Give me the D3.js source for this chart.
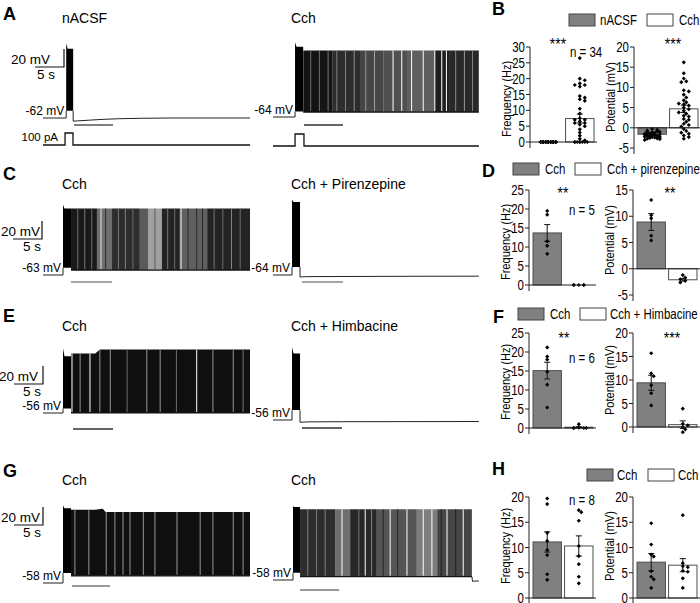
<!DOCTYPE html>
<html>
<head>
<meta charset="utf-8">
<script src="https://cdn.jsdelivr.net/npm/d3@7"></script>
<style>
  body { margin: 0; background: #fff; }
  svg { display: block; font-family: "Liberation Sans", Arial, sans-serif; }
</style>
</head>
<body>
<svg width="700" height="603"></svg>
<script>
// ---------- trace data (time in s, voltage in mV above rest) ----------
const leftTitles = ["nACSF", "Cch", "Cch", "Cch"];
const rightTitles = ["Cch", "Cch + Pirenzepine", "Cch + Himbacine", "Cch"];
const leftRest = [-62, -63, -56, -58];
const rightRest = [-64, -64, -56, -58];
// current step on / off
const leftStep = [[4.0, 5.2], [3.45, 4.83], [3.45, 4.83], [3.45, 4.83]];
const rightStep = [[3.8, 5.2], [3.28, 4.66], [3.28, 4.66], [3.45, 4.66]];
// burst: peak, plateau, floor
const leftBurst = [[83, 77, 8], [78, 74, 8], [72, 63, 5], [86, 83, 11]];
const rightBurst = [[83, 78, 6], [84, 81, 9], [81, 74, 11], [82, 81, 8]];
const leftEnd = 35.7, rightEnd = 35.5;

// quiet traces after the step
const aLeftAfter = [[5.2, -3.5], [6, -3.2], [8, -2.4], [10, -1.6], [13, -0.8], [17, -0.3], [22, 0], [35.7, 0]];
const cRightAfter = [[4.66, -2.2], [6, -1.8], [15, -1.6], [25, -1.4], [35.5, -1.3]];
const eRightAfter = [[4.66, -2.5], [6, -2.1], [12, -1.9], [35.5, -1.7]];
const gRightAfter = [[34.3, 3.7], [34.4, -1.5], [34.8, -1.2], [35.5, -1]];

// spiking traces: spike-top envelope, shade bands [s0, s1, grey], single spikes [s, grey]
const aRightTop = [[5.2, 74], [35.5, 74]];
const aRightShade = [[5.2, 10.3, 20], [10.3, 15, 45], [15, 19, 70], [19, 23.1, 80], [23.1, 27.9, 95], [27.9, 30.5, 30], [30.5, 35.5, 40]];
const aRightLines = [[6.5, 110], [8, 110], [9.5, 120], [11, 130], [12.5, 130], [14, 140], [16, 150], [17.5, 160],
  [20.7, 255], [22.2, 255], [23.9, 255], [25.9, 255], [27.9, 255], [29.1, 255], [29.9, 255], [31.5, 140], [33, 150], [34.4, 130]];
const cLeftTop = [[4.83, 74], [35.7, 74]];
const cLeftShade = [[4.83, 9.3, 25], [9.3, 11.9, 110], [11.9, 16.7, 45], [16.7, 18.1, 90], [18.1, 20.5, 160], [20.5, 23.6, 35], [23.6, 28.3, 95], [28.3, 35.7, 35]];
const cLeftLines = [[6, 110], [7.2, 120], [8.4, 110], [10.0, 230], [10.8, 40], [13, 120], [14.2, 130], [15.5, 110],
  [19.3, 90], [21.5, 120], [22.7, 110], [23.8, 255], [25, 40], [26.5, 40], [27.5, 40], [29.5, 120], [31, 110], [32.5, 130], [34, 110]];
const eLeftTop = [[4.83, 66], [9, 66], [9.8, 70.5], [35.7, 70.5]];
const eLeftShade = [[4.83, 35.7, 15]];
const eLeftLines = [[5.0, 255], [6.4, 150], [8.1, 255], [9.8, 150], [11.6, 150], [14.5, 110], [17.9, 150], [20.2, 150],
  [23, 110], [26.5, 255], [29.3, 150], [32.8, 150], [34.5, 120]];
const gLeftTop = [[4.83, 81.5], [9, 81.5], [10.3, 82.5], [10.8, 79], [35.7, 79]];
const gLeftShade = [[4.83, 35.7, 15]];
const gLeftLines = [[5.5, 150], [7.9, 150], [10.9, 150], [12.4, 150], [13.8, 150], [15, 150], [17.3, 150], [19.3, 150],
  [23.1, 150], [27.1, 150], [29.3, 150], [32.8, 150], [34.5, 150]];
const gRightTop = [[4.66, 78.5], [34.3, 78.5]];
const gRightShade = [[4.66, 10.7, 45], [10.7, 13.3, 110], [13.3, 17.9, 40], [17.9, 24.8, 85], [24.8, 28.3, 125], [28.3, 34.3, 70]];
const gRightLines = [[6, 130], [7.5, 120], [9, 130], [11.9, 255], [14.8, 120], [15.9, 255], [17, 130], [19, 40], [20.2, 255],
  [21.5, 40], [23.1, 255], [25.9, 255], [27.4, 255], [29, 30], [30, 255], [31.5, 30], [32.8, 255]];

// analysis window under each trace
const leftWin = [[5.34, 12.07], [4.83, 11.9], [5.17, 12.07], [5.0, 11.55]];
const rightWin = [[5.34, 12.07], [5.0, 12.07], [5.0, 11.9], [4.66, 11.4]];
// current command (panel A)
const stepAmp = 100;
const leftCmd = [3.8, 5.17], rightCmd = [3.8, 5.34];

// ---------- bar chart data ----------
const groupsB = ["nACSF", "Cch"];
const groupsD = ["Cch", "Cch + pirenzepine"];
const groupsF = ["Cch", "Cch + Himbacine"];
const groupsH = ["Cch", "Cch"];

const freqMeanB = [0, 7.4], freqSemB = [0, 1.4];
const potMeanB = [-1.6, 4.7], potSemB = [0.15, 0.9];
const freqDotsB = [
  [0, 0, 0, 0, 0, 0, 0, 0, 0, 0, 0, 0, 0, 0, 0, 0, 0, 0, 0, 0, 0, 0, 0, 0, 0, 0, 0, 0, 0, 0, 0, 0, 0, 0],
  [26.5, 20, 19.5, 18.5, 18, 18, 17.5, 14.5, 14, 13.5, 13, 10.5, 9, 7.5, 7, 7, 6.5, 6, 6, 5.5, 5, 4, 3, 2, 1, 0.5, 0, 0, 0, 0, 0, 0, 0, 0]
];
const potDotsB = [
  [-0.3, -0.5, -0.7, -0.8, -1, -1, -1.1, -1.2, -1.3, -1.4, -1.5, -1.5, -1.6, -1.7, -1.8, -1.8, -1.9, -2, -2, -2.1, -2.2, -2.3, -2.4, -2.5, -2.6, -2.7, -2.8, -3, -1.2, -1.6, -2.2, -0.9, -1.9, -2.5],
  [16.2, 13.5, 12.2, 11.5, 11.3, 9.3, 9, 8.2, 7.5, 6.8, 6.3, 5.8, 5.5, 5, 4.6, 4.2, 3.5, 3, 2.8, 2.2, 2, 1.5, 1, 0.7, 0.3, -0.3, -0.8, -1.2, -1.5, -1.9, -2.3, -2.7, 3.8, 6]
];
const freqMeanD = [13.7, 0], freqSemD = [2.2, 0];
const potMeanD = [8.9, -2.1], potSemD = [1.6, 0.25];
const freqDotsD = [[19.5, 18.5, 11.5, 10.3, 8.2], [0, 0, 0, 0, 0]];
const potDotsD = [[13.1, 10.2, 9.6, 6.3, 5.4], [-1.2, -1.7, -2.0, -2.3, -2.6]];
const freqMeanF = [15.1, 0.2], freqSemF = [2.2, 0.15];
const potMeanF = [9.4, 0.5], potSemF = [1.6, 0.8];
const freqDotsF = [[21.2, 18.8, 18, 14.8, 11.4, 5.4], [1.0, 0.1, 0, 0, 0, 0]];
const potDotsF = [[15.7, 11.4, 10.8, 8.9, 7.2, 4.6], [3.9, 0.7, 0.35, 0, -0.5, -1.1]];
const freqMeanH = [11.1, 10.3], freqSemH = [2.0, 2.0];
const potMeanH = [7.1, 6.5], potSemH = [1.7, 1.3];
const freqDotsH = [[19.7, 18.6, 12.9, 11.3, 9.5, 8.5, 4.7, 3.6], [17.4, 17.0, 15.3, 10.3, 8.3, 6.7, 4.2, 2.9]];
const potDotsH = [[14.8, 10.6, 8.6, 8.2, 5.3, 4.2, 3.7, 2.0], [16.4, 6.9, 6.3, 6.1, 5.4, 5.2, 3.9, 2.0]];

const freqTicks25 = [0, 5, 10, 15, 20, 25];

// ---------- drawing ----------
const svg = d3.select("svg");
const defs = svg.append("defs");
const pxPerS = 5.8, pxPerMv = 0.9;
const squeeze = 0.82; // the bar panels use a condensed face

// condensed text helper for the right-hand column
function ntext(g, x, y, str, size, anchor, rot) {
  return g.append("text")
    .attr("transform", `translate(${x},${y})${rot ? " rotate(-90)" : ""} scale(${squeeze},1)`)
    .attr("text-anchor", anchor || "start").attr("font-size", size).text(str);
}

// trace set-up (layout + data)
const rowLetters = ["A", "C", "E", "G"];
const letterY = [20, 180, 322, 477];
const titleY = [23, 189, 331, 485];
const leftRestY = [118, 275, 413, 583], rightRestY = [117, 275, 420, 580];
const barOffset = [[7, 8], [7, 7], [16, 8], [3, 10]];
const barColor = [["#555", "#333"], ["#888", "#888"], ["#333", "#333"], ["#777", "#777"]];
const scaleBarX = [64, 42, 43, 43], scaleBarY = [67, 239, 384, 525];
const scaleTextEnd = [50, 40, 38, 40], fiveSX = [37, 23, 23, 23];

const leftAfter = [{after: aLeftAfter}, {top: cLeftTop, floor: 5.5, shade: cLeftShade, lines: cLeftLines},
  {top: eLeftTop, floor: 0, shade: eLeftShade, lines: eLeftLines}, {top: gLeftTop, floor: 8, shade: gLeftShade, lines: gLeftLines}];
const rightAfter = [{top: aRightTop, floor: 5.5, shade: aRightShade, lines: aRightLines}, {after: cRightAfter},
  {after: eRightAfter}, {top: gRightTop, floor: 3.7, shade: gRightShade, lines: gRightLines, after: gRightAfter}];

let clipN = 0;
function drawTrace(x0, y0, rest, step, burst, spec, win, winOff, winCol) {
  const g = svg.append("g");
  const x = d3.scaleLinear().domain([0, 10]).range([x0, x0 + 10 * pxPerS]);
  const y = d3.scaleLinear().domain([0, 20]).range([y0, y0 - 20 * pxPerMv]);
  const line = d3.line().x(d => x(d[0])).y(d => y(d[1]));
  const [on, off] = step;
  const [peak, plateau, floor] = burst;

  g.append("path").attr("d", line([[0, 0], [on, 0], [on, floor]]))
    .attr("fill", "none").attr("stroke", "#222").attr("stroke-width", 1);
  g.append("path").attr("d", line([[on, floor], [on, peak], [on + 0.25, plateau], [off, plateau], [off, floor]]) + "Z")
    .attr("fill", "#000");

  if (spec.top) {
    const tEnd = spec.top[spec.top.length - 1][0];
    const area = d3.area().x(d => x(d[0])).y0(y(spec.floor)).y1(d => y(d[1]));
    const id = "clip" + (clipN++);
    defs.append("clipPath").attr("id", id).append("path").attr("d", area(spec.top));
    const sg = g.append("g").attr("clip-path", `url(#${id})`);
    spec.shade.forEach(s => sg.append("rect")
      .attr("x", x(s[0])).attr("width", x(s[1]) - x(s[0]))
      .attr("y", y(100)).attr("height", 120 * pxPerMv)
      .attr("fill", d3.rgb(s[2], s[2], s[2])));
    spec.lines.forEach(s => sg.append("line")
      .attr("x1", x(s[0])).attr("x2", x(s[0]))
      .attr("y1", y(100)).attr("y2", y(spec.floor) - 1)
      .attr("stroke", d3.rgb(s[1], s[1], s[1])).attr("stroke-width", 1));
    g.append("line").attr("x1", x(off)).attr("x2", x(tEnd))
      .attr("y1", y(spec.floor)).attr("y2", y(spec.floor))
      .attr("stroke", "#111").attr("stroke-width", 1.2);
    if (spec.after) {
      g.append("path").attr("d", line(spec.after)).attr("fill", "none").attr("stroke", "#222");
    }
  } else {
    g.append("path").attr("d", line([[off, floor]].concat(spec.after)))
      .attr("fill", "none").attr("stroke", "#222").attr("stroke-width", 1);
  }

  // analysis window bar
  g.append("line").attr("x1", x(win[0])).attr("x2", x(win[1]))
    .attr("y1", y0 + winOff).attr("y2", y0 + winOff)
    .attr("stroke", winCol).attr("stroke-width", 1.5);

  // resting potential label
  g.append("text").attr("x", x(on) - 2).attr("y", y0 - 3)
    .attr("text-anchor", "end").attr("font-size", 12).text(`${rest} mV`);
}

rowLetters.forEach((L, i) => {
  svg.append("text").attr("x", 3).attr("y", letterY[i]).attr("font-size", 18)
    .attr("font-weight", "bold").text(L);
  svg.append("text").attr("x", 62).attr("y", titleY[i]).attr("font-size", 14).text(leftTitles[i]);
  svg.append("text").attr("x", 291).attr("y", titleY[i]).attr("font-size", 14).text(rightTitles[i]);

  drawTrace(43, leftRestY[i], leftRest[i], leftStep[i], leftBurst[i], leftAfter[i],
    leftWin[i], barOffset[i][0], barColor[i][0]);
  drawTrace(273, rightRestY[i], rightRest[i], rightStep[i], rightBurst[i], rightAfter[i],
    rightWin[i], barOffset[i][1], barColor[i][1]);

  // scale bar 20 mV / 5 s
  const sx = scaleBarX[i], sy = scaleBarY[i];
  svg.append("path")
    .attr("d", `M${sx - 5 * pxPerS},${sy}H${sx}V${sy - 20 * pxPerMv}`)
    .attr("fill", "none").attr("stroke", "#111").attr("stroke-width", 1.2);
  svg.append("text").attr("x", scaleTextEnd[i]).attr("y", sy - 3).attr("text-anchor", "end")
    .attr("font-size", 13.5).text("20 mV");
  svg.append("text").attr("x", fiveSX[i]).attr("y", sy + 12).attr("font-size", 13.5).text("5 s");
});

// current command traces (panel A)
[[43, 145, leftCmd, leftEnd], [273, 146, rightCmd, rightEnd]].forEach(([x0, yb, cmd, end]) => {
  const x = d3.scaleLinear().domain([0, 10]).range([x0, x0 + 10 * pxPerS]);
  const y = d3.scaleLinear().domain([0, 100]).range([yb, yb - 12]);
  svg.append("path")
    .attr("d", d3.line().x(d => x(d[0])).y(d => y(d[1]))([[0, 0], [cmd[0], 0], [cmd[0], stepAmp], [cmd[1], stepAmp], [cmd[1], 0], [end, 0]]))
    .attr("fill", "none").attr("stroke", "#111").attr("stroke-width", 1.3);
});
svg.append("text").attr("x", 58).attr("y", 141).attr("text-anchor", "end")
  .attr("font-size", 11.5).text(`${stepAmp} pA`);

// ---------- bar charts ----------
function swarm(vals, y, cx) {
  const placed = [];
  const steps = [0, 2.5, -2.5, 5, -5, 7.5, -7.5];
  return vals.map(v => {
    const yy = y(v);
    let dx = steps[placed.length % steps.length];
    for (const s of steps) {
      if (placed.every(p => Math.hypot(p[0] - s, p[1] - yy) > 3)) { dx = s; break; }
    }
    placed.push([dx, yy]);
    return [cx + dx, yy];
  });
}

function drawChart(c) {
  const g = svg.append("g");
  const y = d3.scaleLinear().domain(c.dom).range(c.rng);
  const x = d3.scaleBand().domain([0, 1]).range([c.ax + 4, c.ax + 64]).paddingInner(0.1);
  const fills = ["#808080", "#fff"];

  c.means.forEach((m, i) => {
    g.append("rect").attr("x", x(i)).attr("y", Math.min(y(0), y(m)))
      .attr("width", x.bandwidth()).attr("height", Math.abs(y(m) - y(0)))
      .attr("fill", fills[i]).attr("stroke", "#4d4d4d").attr("stroke-width", 1);
  });
  c.means.forEach((m, i) => {
    if (!c.sems[i]) return;
    const cx = x(i) + x.bandwidth() / 2;
    const a = y(m - c.sems[i]), b = y(m + c.sems[i]);
    g.append("path").attr("d", `M${cx - 3},${a}H${cx + 3}M${cx},${a}V${b}M${cx - 3},${b}H${cx + 3}`)
      .attr("stroke", "#111").attr("fill", "none");
  });
  c.dots.forEach((vals, i) => {
    const cx = x(i) + x.bandwidth() / 2;
    swarm(vals, y, cx).forEach(p => g.append("path")
      .attr("d", d3.symbol(d3.symbolDiamond2, 11)())
      .attr("transform", `translate(${p[0]},${p[1]})`).attr("fill", "#000"));
  });

  // axes
  const lo = y(c.dom[0]) + 6;
  g.append("line").attr("x1", c.ax).attr("x2", c.ax).attr("y1", y(c.dom[1])).attr("y2", lo)
    .attr("stroke", "#222");
  g.append("line").attr("x1", c.ax).attr("x2", c.ax + 67).attr("y1", y(0)).attr("y2", y(0))
    .attr("stroke", "#222");
  c.ticks.forEach(t => {
    g.append("line").attr("x1", c.ax - 4).attr("x2", c.ax).attr("y1", y(t)).attr("y2", y(t)).attr("stroke", "#222");
    ntext(g, c.ax - 5, y(t) + 5, t, 14, "end");
  });
  ntext(g, c.ax - 19, c.labelY, c.label, 13.5, "middle", true);
  if (c.stars) ntext(g, c.starX, c.starY, c.stars, 17, "middle");
  if (c.n) ntext(g, c.ax + 40, c.nY, c.n, 14);
}

function drawLegend(letter, lx, ly, groups, pos) {
  svg.append("text").attr("x", lx).attr("y", ly).attr("font-size", 18).attr("font-weight", "bold").text(letter);
  const g = svg.append("g");
  groups.forEach((name, i) => {
    g.append("rect").attr("x", pos[i * 2]).attr("y", pos[4]).attr("width", 26).attr("height", 12)
      .attr("fill", i ? "#fff" : "#808080").attr("stroke", "#444");
    ntext(g, pos[i * 2 + 1], pos[4] + 11, name, 14);
  });
}

drawLegend("B", 492, 15, groupsB, [569, 600, 647, 679, 14]);
drawChart({ax: 530, dom: [0, 30], rng: [142, 47], ticks: [0, 5, 10, 15, 20, 25, 30], label: "Frequency (Hz)", labelY: 99,
  means: freqMeanB, sems: freqSemB, dots: freqDotsB, stars: "***", starX: 558, starY: 50, n: "n = 34", nY: 57});
drawChart({ax: 634, dom: [-5, 20], rng: [148, 47], ticks: [-5, 0, 5, 10, 15, 20], label: "Potential (mV)", labelY: 97,
  means: potMeanB, sems: potSemB, dots: potDotsB, stars: "***", starX: 673, starY: 50});

drawLegend("D", 482, 177, groupsD, [513, 545, 575, 607, 163]);
drawChart({ax: 529, dom: [0, 25], rng: [285, 190], ticks: freqTicks25, label: "Frequency (Hz)", labelY: 242,
  means: freqMeanD, sems: freqSemD, dots: freqDotsD, stars: "**", starX: 563, starY: 199, n: "n = 5", nY: 215});
drawChart({ax: 633, dom: [-5, 15], rng: [295, 190], ticks: [-5, 0, 5, 10, 15], label: "Potential (mV)", labelY: 240,
  means: potMeanD, sems: potSemD, dots: potDotsD, stars: "**", starX: 670, starY: 199});

drawLegend("F", 493, 323, groupsF, [518, 550, 580, 610, 308]);
drawChart({ax: 529, dom: [0, 25], rng: [428, 333], ticks: freqTicks25, label: "Frequency (Hz)", labelY: 382,
  means: freqMeanF, sems: freqSemF, dots: freqDotsF, stars: "**", starX: 564, starY: 344, n: "n = 6", nY: 363});
drawChart({ax: 633, dom: [0, 20], rng: [427, 333], ticks: [0, 5, 10, 15, 20], label: "Potential (mV)", labelY: 380,
  means: potMeanF, sems: potSemF, dots: potDotsF, stars: "***", starX: 672, starY: 344});

drawLegend("H", 492, 475, groupsH, [587, 617, 648, 678, 469]);
drawChart({ax: 529, dom: [0, 20], rng: [598, 497], ticks: [0, 5, 10, 15, 20], label: "Frequency (Hz)", labelY: 546,
  means: freqMeanH, sems: freqSemH, dots: freqDotsH, n: "n = 8", nY: 505});
drawChart({ax: 633, dom: [0, 20], rng: [598, 497], ticks: [0, 5, 10, 15, 20], label: "Potential (mV)", labelY: 546,
  means: potMeanH, sems: potSemH, dots: potDotsH});
</script>
</body>
</html>
